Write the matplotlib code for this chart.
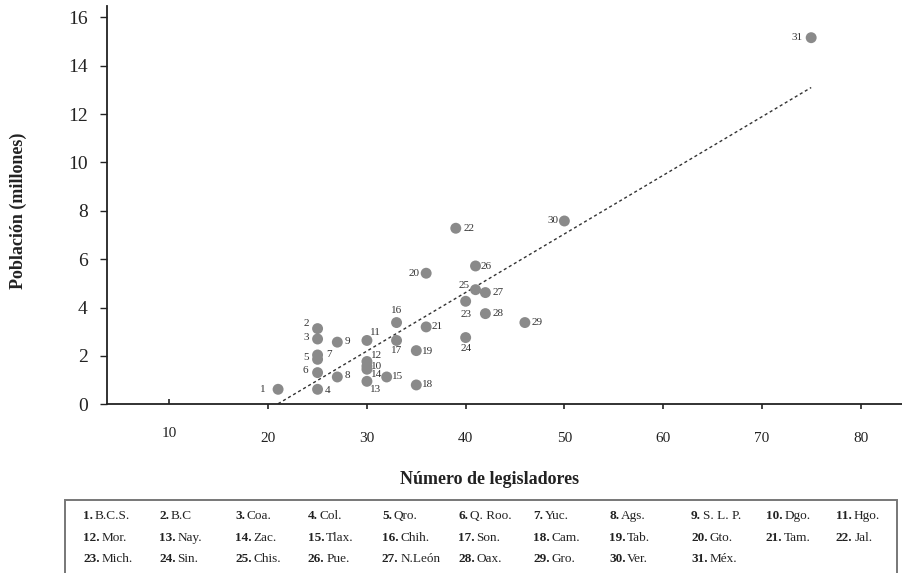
import numpy as np
import matplotlib
matplotlib.use('Agg')
import matplotlib.pyplot as plt
import matplotlib.patches as patches
from matplotlib.ticker import FixedLocator, FixedFormatter

plt.rcParams['font.family'] = ['Liberation Serif', 'DejaVu Serif']

# data
ids = list(range(1, 32))
states = ['B.C.S.', 'B.C', 'Coa.', 'Col.', 'Qro.', 'Q. Roo.', 'Yuc.', 'Ags.', 'S. L. P.', 'Dgo.', 'Hgo.',
          'Mor.', 'Nay.', 'Zac.', 'Tlax.', 'Chih.', 'Son.', 'Cam.', 'Tab.', 'Gto.', 'Tam.', 'Jal.',
          'Mich.', 'Sin.', 'Chis.', 'Pue.', 'N.León', 'Oax.', 'Gro.', 'Ver.', 'Méx.']
legisladores = [21, 25, 25, 25, 25, 25, 25, 27, 27, 30, 30,
                30, 30, 30, 32, 33, 33, 35, 35, 36, 36, 39,
                40, 40, 41, 41, 42, 42, 46, 50, 75]
poblacion = [0.62, 3.13, 2.70, 0.62, 1.86, 1.31, 2.04, 1.13, 2.57, 1.58, 2.64,
             1.77, 0.95, 1.45, 1.13, 3.38, 2.64, 0.80, 2.22, 5.42, 3.20, 7.28,
             4.26, 2.76, 4.74, 5.72, 4.62, 3.75, 3.38, 7.58, 15.16]
yticks = [0, 2, 4, 6, 8, 10, 12, 14, 16]
xticks = [20, 30, 40, 50, 60, 70, 80]
xtick_inner = [10]

# label offsets in pixels (dx right, dy down)
offsets = [(-15, 0), (-11, -5), (-11, -2), (10, 1), (-12, -2), (-12, -2), (11, 0), (10, -1), (10, -1),
           (10, 0), (8, -8), (10, -6), (9, 8), (10, 5), (11, 0), (0, -12), (0, 10), (11, 0), (11, 1),
           (-12, 0), (11, 0), (13, 0), (0, 13), (0, 11), (-11, -4), (11, 1), (13, 0), (13, 0), (12, 0),
           (-11, 0), (-14, 0)]

W, H = 902, 573
fig = plt.figure(figsize=(W / 100, H / 100), dpi=100)
ax = fig.add_axes([107.3 / W, (H - 404.3) / H, 1 - 107.3 / W, (404.3 - 6) / H])

x = np.array(legisladores, dtype=float)
y = np.array(poblacion)

ax.scatter(x, y, s=62, color='#8a8a8a', edgecolors='none', zorder=3, clip_on=False)

# linear trend line
m, b = np.polyfit(x, y, 1)
xs = np.array([x.min(), x.max()])
ax.plot(xs, m * xs + b, color='#333333', lw=1.0, linestyle=(0, (2.2, 2.0)), zorder=2)

for i, (xi, yi) in enumerate(zip(x, y)):
    dx, dy = offsets[i]
    ax.annotate(str(ids[i]), (xi, yi), xytext=(dx * 0.72, -dy * 0.72), textcoords='offset points',
                ha='center', va='center', fontsize=8, color='#333333')

ax.set_xlim(3.7, 84.2)
ax.set_ylim(0, 16.47)

for s in ['top', 'right']:
    ax.spines[s].set_visible(False)
for s in ['left', 'bottom']:
    ax.spines[s].set_color('#222222')
    ax.spines[s].set_linewidth(1.3)

ax.set_yticks(yticks)
ax.tick_params(axis='y', direction='out', length=5, width=1, labelsize=14, pad=9, colors='#222222')

ax.xaxis.set_major_locator(FixedLocator(xticks))
ax.xaxis.set_major_formatter(FixedFormatter([str(v) for v in xticks]))
ax.xaxis.set_minor_locator(FixedLocator(xtick_inner))
ax.xaxis.set_minor_formatter(FixedFormatter([str(v) for v in xtick_inner]))
ax.tick_params(axis='x', which='major', direction='out', length=3.6, width=1.2, labelsize=11, pad=16.5,
               colors='#222222')
ax.tick_params(axis='x', which='minor', direction='in', length=3.6, width=1.2, labelsize=11, pad=16.5,
               colors='#222222')

fig.text(18.5 / W, 1 - 211 / H, 'Población (millones)', rotation=90, ha='center', va='center',
         fontsize=13, fontweight='bold', color='#222222')
fig.text(490 / W, 1 - 479 / H, 'Número de legisladores', ha='center', va='center',
         fontsize=13, fontweight='bold', color='#222222')

# key box at the bottom
box = patches.Rectangle((65 / W, -0.02), (897 - 65) / W, (H - 500) / H + 0.02, transform=fig.transFigure,
                        fill=False, ec='#777777', lw=1.4)
fig.add_artist(box)

col_x = [83, 159, 235, 308, 382, 458, 533, 609, 691, 766, 836]
row_y = [516, 538, 558.5]
for i, name in enumerate(states):
    r, c = divmod(i, 11)
    t = fig.text(col_x[c] / W, 1 - row_y[r] / H, '%d.' % ids[i], ha='left', va='center',
                 fontsize=9.5, fontweight='bold', color='#222222')
    fig.add_artist(matplotlib.text.Annotation(name, xy=(1, 0), xycoords=t, xytext=(1.2, 0),
                                              textcoords='offset points', ha='left', va='bottom',
                                              fontsize=9.5, color='#222222'))

fig.savefig('out.png', dpi=100)
